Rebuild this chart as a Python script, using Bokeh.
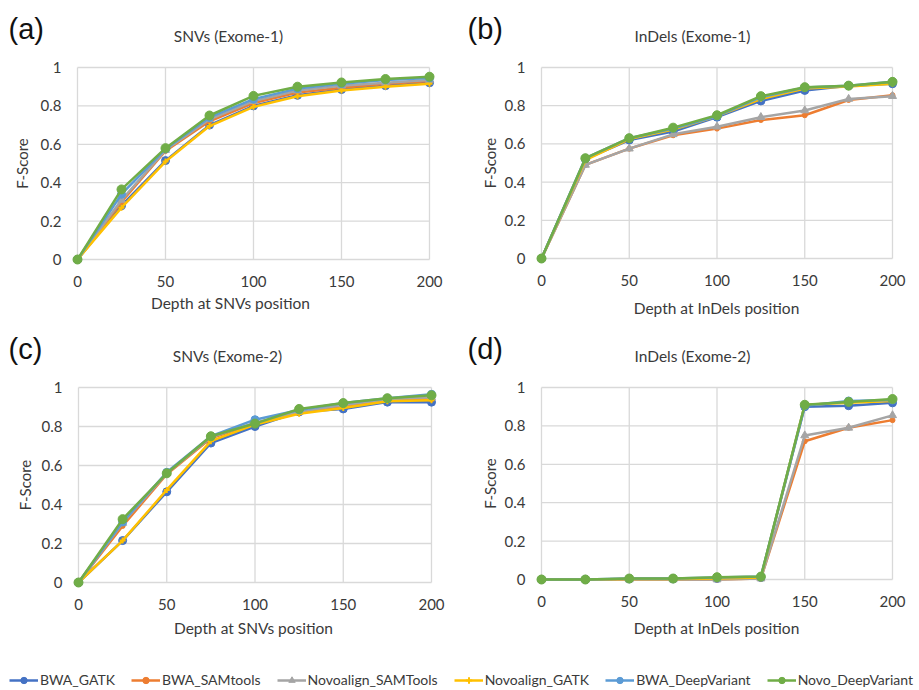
from bokeh.plotting import figure
from bokeh.models import Range1d, Label, Legend, LegendItem, FixedTicker, NumeralTickFormatter
from bokeh.layouts import column, row
from bokeh.embed import file_html
from bokeh.resources import INLINE

# ---------------------------------------------------------------- data
depth = [0, 25, 50, 75, 100, 125, 150, 175, 200]
x_ticks = [0, 50, 100, 150, 200]
y_ticks = [0, 0.2, 0.4, 0.6, 0.8, 1]

series_names = ["BWA_GATK", "BWA_SAMtools", "Novoalign_SAMTools",
                "Novoalign_GATK", "BWA_DeepVariant", "Novo_DeepVariant"]

# (a) SNVs, Exome-1
snv1_bwa_gatk      = [0, 0.28, 0.515, 0.70, 0.80, 0.855, 0.885, 0.905, 0.92]
snv1_bwa_samtools  = [0, 0.30, 0.565, 0.72, 0.815, 0.87, 0.895, 0.915, 0.93]
snv1_novo_samtools = [0, 0.31, 0.57, 0.73, 0.825, 0.88, 0.905, 0.92, 0.935]
snv1_novo_gatk     = [0, 0.27, 0.51, 0.695, 0.795, 0.85, 0.88, 0.90, 0.915]
snv1_bwa_dv        = [0, 0.34, 0.575, 0.74, 0.835, 0.89, 0.915, 0.935, 0.945]
snv1_novo_dv       = [0, 0.365, 0.58, 0.75, 0.852, 0.90, 0.922, 0.94, 0.952]

# (b) InDels, Exome-1
ind1_bwa_gatk      = [0, 0.52, 0.62, 0.665, 0.74, 0.825, 0.88, 0.905, 0.915]
ind1_bwa_samtools  = [0, 0.49, 0.575, 0.645, 0.68, 0.725, 0.75, 0.83, 0.855]
ind1_novo_samtools = [0, 0.49, 0.575, 0.65, 0.69, 0.74, 0.775, 0.835, 0.85]
ind1_novo_gatk     = [0, 0.515, 0.625, 0.675, 0.745, 0.835, 0.89, 0.90, 0.915]
ind1_bwa_dv        = [0, 0.525, 0.63, 0.68, 0.745, 0.845, 0.895, 0.905, 0.925]
ind1_novo_dv       = [0, 0.525, 0.63, 0.685, 0.75, 0.85, 0.897, 0.905, 0.925]

# (c) SNVs, Exome-2
snv2_bwa_gatk      = [0, 0.215, 0.465, 0.715, 0.80, 0.875, 0.89, 0.925, 0.925]
snv2_bwa_samtools  = [0, 0.29, 0.555, 0.74, 0.815, 0.87, 0.905, 0.935, 0.94]
snv2_novo_samtools = [0, 0.305, 0.56, 0.745, 0.82, 0.875, 0.91, 0.94, 0.95]
snv2_novo_gatk     = [0, 0.215, 0.475, 0.725, 0.81, 0.865, 0.895, 0.93, 0.935]
snv2_bwa_dv        = [0, 0.31, 0.565, 0.75, 0.835, 0.885, 0.92, 0.945, 0.965]
snv2_novo_dv       = [0, 0.325, 0.56, 0.75, 0.815, 0.89, 0.92, 0.945, 0.96]

# (d) InDels, Exome-2
ind2_bwa_gatk      = [0, 0, 0.003, 0.003, 0.005, 0.01, 0.90, 0.905, 0.92]
ind2_bwa_samtools  = [0, 0, 0, 0, 0, 0.005, 0.72, 0.79, 0.83]
ind2_novo_samtools = [0, 0, 0, 0, 0, 0.005, 0.75, 0.79, 0.855]
ind2_novo_gatk     = [0, 0, 0.003, 0.003, 0.005, 0.01, 0.91, 0.92, 0.93]
ind2_bwa_dv        = [0, 0, 0.005, 0.005, 0.01, 0.015, 0.905, 0.93, 0.935]
ind2_novo_dv       = [0, 0, 0.005, 0.005, 0.012, 0.015, 0.91, 0.925, 0.94]

# ---------------------------------------------------------------- styles
COLORS = ["#4472C4", "#ED7D31", "#A5A5A5", "#FFC000", "#5B9BD5", "#70AD47"]
MARKERS = ["circle", "circle", "triangle", "cross", "circle", "circle"]
MSIZES = [8, 5, 8, 6, 8, 9]
GRID = "#D9D9D9"
TEXT = "#3a3a3a"
FONT = "Lato"
PAD = 8        # px of breathing room so markers on the edges are not clipped
TICK_BAND = 28  # px below the frame reserved for the x tick labels


def text_strip(W, H, labels):
    """Blank strip whose frame fills it; labels are (text, x, y, font, size, align, color)
    in pixels from the strip's top-left corner."""
    s = figure(width=W, height=H, output_backend="svg", toolbar_location=None,
               x_range=Range1d(0, W), y_range=Range1d(H, 0),
               x_axis_location=None, y_axis_location=None, min_border=0,
               frame_align=False)
    s.outline_line_color = None
    s.grid.visible = False
    for text, x, y, font, size, align, color in labels:
        s.add_layout(Label(x=x, y=y, text=text, text_font=font, text_font_size=size,
                           text_align=align, text_baseline="middle", text_color=color))
    return s


def panel(tag, title, xlabel, series, W, H, L, R, T, B, title_x, xlab_xy, ylab_standoff):
    """L, R, T, B: pixel positions of depth 0/200 and score 1/0 within the panel."""
    head_h = T - PAD
    foot_top = B + PAD + TICK_BAND
    head = text_strip(W, head_h, [
        (tag, 8, 28, "Liberation Sans", "29px", "left", "#111111"),
        (title, title_x, 35, FONT, "15.5px", "center", TEXT),
    ])
    foot = text_strip(W, H - foot_top, [
        (xlabel, xlab_xy[0], xlab_xy[1] - foot_top, FONT, "15.5px", "center", TEXT),
    ])

    xpad = PAD * 200.0 / (R - L)
    ypad = PAD * 1.0 / (B - T)
    p = figure(width=W, height=foot_top - head_h, output_backend="svg", toolbar_location=None,
               x_range=Range1d(-xpad, 200 + xpad), y_range=Range1d(-ypad, 1 + ypad),
               min_border_left=L - PAD, min_border_right=W - (R + PAD),
               min_border_top=0, min_border_bottom=TICK_BAND, frame_align=False)
    p.outline_line_color = None
    p.grid.visible = False

    for ax in (p.xaxis[0], p.yaxis[0]):
        ax.axis_line_color = None
        ax.major_tick_line_color = None
        ax.minor_tick_line_color = None
        ax.major_tick_out = 0
        ax.major_tick_in = 0
        ax.minor_tick_out = 0
        ax.major_label_text_font = FONT
        ax.major_label_text_font_size = "15px"
        ax.major_label_text_color = TEXT
    p.xaxis.ticker = FixedTicker(ticks=x_ticks)
    p.yaxis.ticker = FixedTicker(ticks=y_ticks)
    p.yaxis.formatter = NumeralTickFormatter(format="0.[0]")
    p.xaxis.major_label_standoff = 8
    p.yaxis.major_label_standoff = 8

    p.yaxis.axis_label = "F-Score"
    p.yaxis.axis_label_text_font = FONT
    p.yaxis.axis_label_text_font_style = "normal"
    p.yaxis.axis_label_text_font_size = "15px"
    p.yaxis.axis_label_text_color = TEXT
    p.yaxis.axis_label_standoff = ylab_standoff

    # gridlines bounded to the data box
    p.segment(x0=x_ticks, y0=[0] * len(x_ticks), x1=x_ticks, y1=[1] * len(x_ticks),
              line_color=GRID, line_width=1.3)
    p.segment(x0=[0] * len(y_ticks), y0=y_ticks, x1=[200] * len(y_ticks), y1=y_ticks,
              line_color=GRID, line_width=1.3)

    for vals, col, mk, ms in zip(series, COLORS, MARKERS, MSIZES):
        p.line(depth, vals, line_color=col, line_width=2.5)
        if mk == "cross":
            p.scatter(depth, vals, marker=mk, size=ms, line_color=col, line_width=2)
        else:
            p.scatter(depth, vals, marker=mk, size=ms, fill_color=col, line_color=col)
    return column(head, p, foot, spacing=0)


pa = panel("(a)", "SNVs (Exome-1)", "Depth at SNVs position",
           [snv1_bwa_gatk, snv1_bwa_samtools, snv1_novo_samtools, snv1_novo_gatk, snv1_bwa_dv, snv1_novo_dv],
           459, 320, 77, 429, 67, 259, 228, (230, 302), 7)
pb = panel("(b)", "InDels (Exome-1)", "Depth at InDels position",
           [ind1_bwa_gatk, ind1_bwa_samtools, ind1_novo_samtools, ind1_novo_gatk, ind1_bwa_dv, ind1_novo_dv],
           460, 320, 82, 433, 67, 258, 233, (257, 307), 3)
pc = panel("(c)", "SNVs (Exome-2)", "Depth at SNVs position",
           [snv2_bwa_gatk, snv2_bwa_samtools, snv2_novo_samtools, snv2_novo_gatk, snv2_bwa_dv, snv2_novo_dv],
           459, 330, 78, 431, 67, 262, 227, (253, 307), 5)
pd_ = panel("(d)", "InDels (Exome-2)", "Depth at InDels position",
            [ind2_bwa_gatk, ind2_bwa_samtools, ind2_novo_samtools, ind2_novo_gatk, ind2_bwa_dv, ind2_novo_dv],
            460, 330, 82, 433, 67, 259, 233, (257, 307), 3)

# ---------------------------------------------------------------- shared legend strip
pl = figure(width=919, height=40, output_backend="svg", toolbar_location=None,
            x_range=Range1d(1000, 1001), y_range=Range1d(1000, 1001),
            x_axis_location=None, y_axis_location=None, min_border=0, frame_align=False)
pl.outline_line_color = None
pl.grid.visible = False
items = []
leg_series = [snv1_bwa_gatk, snv1_bwa_samtools, snv1_novo_samtools, snv1_novo_gatk, snv1_bwa_dv, snv1_novo_dv]
for name, vals, col, mk, ms in zip(series_names, leg_series, COLORS, MARKERS, MSIZES):
    r1 = pl.line(depth, vals, line_color=col, line_width=2.5)
    if mk == "cross":
        r2 = pl.scatter(depth, vals, marker=mk, size=ms, line_color=col, line_width=2)
    else:
        r2 = pl.scatter(depth, vals, marker=mk, size=ms, fill_color=col, line_color=col)
    items.append(LegendItem(label=name, renderers=[r1, r2]))
legend = Legend(items=items, orientation="horizontal", location=(9, 2),
                glyph_width=29, glyph_height=16, label_height=16, label_standoff=2, spacing=16,
                padding=0, margin=0, border_line_color=None, background_fill_alpha=0,
                label_text_font=FONT, label_text_font_size="14px", label_text_color=TEXT)
pl.add_layout(legend, "center")

layout = column(row(pa, pb, spacing=0), row(pc, pd_, spacing=0), pl, spacing=0)
open("out.html", "w").write(file_html(layout, INLINE))
